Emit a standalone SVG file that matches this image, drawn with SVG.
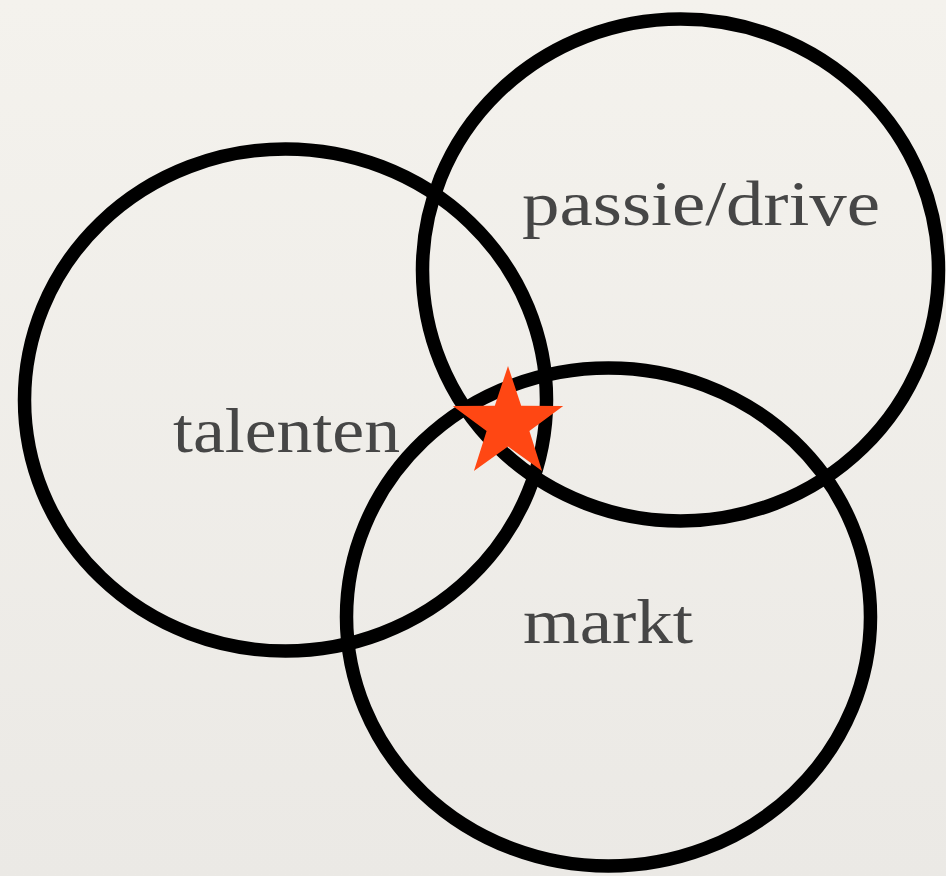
<svg xmlns="http://www.w3.org/2000/svg" width="946" height="876" viewBox="0 0 946 876">
  <defs>
    <linearGradient id="bg" x1="0" y1="0" x2="0" y2="1">
      <stop offset="0" stop-color="#F4F2ED"/>
      <stop offset="1" stop-color="#EBE9E5"/>
    </linearGradient>
  </defs>
  <style>
    .ring { fill: none; stroke: #000; stroke-width: 13.5; }
    .lbl { font-family: "Liberation Serif", "DejaVu Serif", serif; font-size: 64px; fill: #464646; }
  </style>
  <rect width="946" height="876" fill="url(#bg)"/>
  <g id="talenten">
    <ellipse class="ring" cx="285.5" cy="400" rx="261" ry="251"/>
    <text class="lbl" x="173" y="452" textLength="227" lengthAdjust="spacingAndGlyphs">talenten</text>
  </g>
  <g id="passie">
    <ellipse class="ring" cx="680.5" cy="270" rx="258" ry="251"/>
    <text class="lbl" x="522" y="225" textLength="358" lengthAdjust="spacingAndGlyphs">passie/drive</text>
  </g>
  <g id="markt">
    <ellipse class="ring" cx="608.5" cy="617" rx="262" ry="249"/>
    <text class="lbl" x="523" y="643" textLength="170" lengthAdjust="spacingAndGlyphs">markt</text>
  </g>
  <g id="star">
    <polygon fill="#FF4713" points="508,366 521.2,405.8 563.2,406.1 529.4,431 542.1,470.9 508,446.5 473.9,470.9 486.6,431 452.8,406.1 494.8,405.8"/>
  </g>
</svg>
